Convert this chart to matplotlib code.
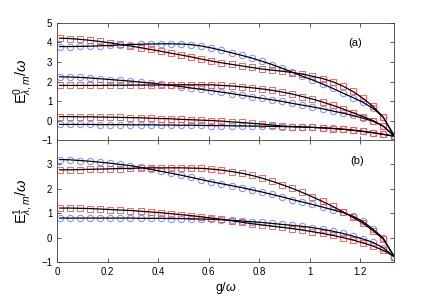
import numpy as np
import matplotlib
matplotlib.use("Agg")
import matplotlib.pyplot as plt

plt.rcParams['font.family'] = ['Liberation Sans', 'DejaVu Sans']
plt.rcParams['mathtext.fontset'] = 'custom'
plt.rcParams['mathtext.rm'] = 'Liberation Sans'
plt.rcParams['mathtext.it'] = 'Liberation Sans:italic'

# g/omega grid of the computed points
g = [0.01, 0.05, 0.09, 0.13, 0.17, 0.21, 0.25, 0.29, 0.33, 0.37, 0.41, 0.45,
     0.49, 0.53, 0.57, 0.61, 0.65, 0.69, 0.73, 0.77, 0.81, 0.85, 0.89, 0.93,
     0.97, 1.01, 1.05, 1.09, 1.13, 1.17, 1.21, 1.25, 1.29, 1.3333]

# panel (a): E^0
a_blue_top = [3.79, 3.79, 3.80, 3.81, 3.83, 3.85, 3.87, 3.89, 3.91, 3.92, 3.93, 3.93,
              3.92, 3.89, 3.82, 3.72, 3.60, 3.47, 3.34, 3.20, 3.04, 2.87, 2.68, 2.48,
              2.27, 2.08, 1.87, 1.65, 1.41, 1.18, 0.93, 0.63, 0.17, -0.78]
a_red_top = [4.22, 4.20, 4.16, 4.11, 4.05, 3.98, 3.90, 3.82, 3.73, 3.64, 3.55, 3.45,
             3.36, 3.26, 3.15, 3.05, 2.96, 2.88, 2.80, 2.72, 2.64, 2.58, 2.53, 2.46,
             2.38, 2.27, 2.15, 1.99, 1.77, 1.49, 1.14, 0.72, 0.18, -0.78]
a_blue_mid = [2.24, 2.23, 2.21, 2.18, 2.14, 2.10, 2.06, 2.02, 1.97, 1.92, 1.86, 1.80,
              1.74, 1.67, 1.60, 1.53, 1.46, 1.38, 1.30, 1.22, 1.14, 1.06, 0.98, 0.88,
              0.79, 0.70, 0.60, 0.49, 0.38, 0.26, 0.12, -0.04, -0.28, -0.78]
a_red_mid = [1.80, 1.80, 1.80, 1.80, 1.80, 1.81, 1.81, 1.81, 1.82, 1.82, 1.82, 1.83,
             1.83, 1.83, 1.83, 1.83, 1.80, 1.77, 1.73, 1.68, 1.62, 1.55, 1.46, 1.36,
             1.23, 1.10, 0.95, 0.78, 0.60, 0.40, 0.20, 0.00, -0.29, -0.78]
a_blue_low = [-0.20, -0.20, -0.20, -0.20, -0.21, -0.21, -0.21, -0.22, -0.22, -0.22, -0.23, -0.23,
              -0.24, -0.24, -0.25, -0.26, -0.26, -0.27, -0.28, -0.28, -0.29, -0.30, -0.31, -0.32,
              -0.33, -0.35, -0.37, -0.40, -0.44, -0.49, -0.55, -0.62, -0.70, -0.80]
a_red_low = [0.20, 0.20, 0.19, 0.19, 0.18, 0.17, 0.16, 0.15, 0.14, 0.12, 0.10, 0.09,
             0.06, 0.04, 0.02, 0.00, -0.03, -0.07, -0.10, -0.14, -0.18, -0.23, -0.28, -0.31,
             -0.33, -0.35, -0.38, -0.41, -0.45, -0.50, -0.56, -0.63, -0.71, -0.80]

# panel (b): E^1
b_blue_top = [3.20, 3.19, 3.16, 3.13, 3.09, 3.05, 3.00, 2.95, 2.88, 2.80, 2.72, 2.64,
              2.56, 2.47, 2.38, 2.29, 2.21, 2.13, 2.05, 1.96, 1.87, 1.77, 1.67, 1.56,
              1.46, 1.36, 1.25, 1.14, 1.03, 0.88, 0.66, 0.34, -0.02, -0.78]
b_red_top = [2.78, 2.78, 2.79, 2.80, 2.81, 2.82, 2.83, 2.84, 2.85, 2.86, 2.86, 2.86,
             2.86, 2.85, 2.84, 2.81, 2.77, 2.71, 2.64, 2.55, 2.44, 2.31, 2.17, 2.02,
             1.85, 1.67, 1.48, 1.28, 1.06, 0.83, 0.59, 0.28, -0.06, -0.78]
b_blue_low = [0.80, 0.80, 0.80, 0.80, 0.80, 0.80, 0.80, 0.80, 0.79, 0.79, 0.79, 0.78,
              0.78, 0.77, 0.76, 0.75, 0.73, 0.71, 0.68, 0.65, 0.62, 0.58, 0.54, 0.50,
              0.46, 0.41, 0.34, 0.26, 0.17, 0.06, -0.06, -0.20, -0.42, -0.78]
b_red_low = [1.21, 1.21, 1.20, 1.19, 1.17, 1.15, 1.13, 1.11, 1.08, 1.05, 1.02, 0.98,
             0.94, 0.90, 0.85, 0.80, 0.75, 0.69, 0.63, 0.57, 0.52, 0.47, 0.42, 0.37,
             0.31, 0.24, 0.17, 0.09, 0.00, -0.10, -0.22, -0.35, -0.52, -0.78]

BLUE = '#6b7cff'
RED = '#ff4a4a'
EDGE = '#404040'


def draw_panel(ax, blues, reds):
    for y in blues:
        ax.plot(g, y, 'o', mfc='none', mec=BLUE, ms=4.6, mew=0.75, alpha=0.85)
    for y in reds:
        ax.plot(g, y, 's', mfc='none', mec=RED, ms=4.2, mew=0.75, alpha=0.85)
    for y in blues + reds:
        ax.plot(g, y, '-', color='black', lw=0.9)
    ax.set_xlim(0, 4 / 3)
    ax.tick_params(direction='in', top=True, right=True, labelsize=7,
                   length=3, width=0.6, color=EDGE)
    for sp in ax.spines.values():
        sp.set_color(EDGE)
        sp.set_linewidth(0.6)


fig = plt.figure(figsize=(4.36, 2.98), dpi=100)
ax1 = fig.add_axes([0.131, 0.530, 0.773, 0.393])
ax2 = fig.add_axes([0.131, 0.121, 0.773, 0.409])

draw_panel(ax1, [a_blue_top, a_blue_mid, a_blue_low], [a_red_top, a_red_mid, a_red_low])
draw_panel(ax2, [b_blue_top, b_blue_low], [b_red_top, b_red_low])

ax1.set_ylim(-1, 5)
ax1.set_yticks([-1, 0, 1, 2, 3, 4, 5])
ax1.set_xticks([0, 0.2, 0.4, 0.6, 0.8, 1.0, 1.2])
ax1.set_xticklabels([])
ax2.set_ylim(-1, 4)
ax2.set_yticks([-1, 0, 1, 2, 3])
ax2.set_xticks([0, 0.2, 0.4, 0.6, 0.8, 1.0, 1.2])
ax2.set_xticklabels(['0', '0.2', '0.4', '0.6', '0.8', '1', '1.2'])

ax1.text(0.884, 0.83, '(a)', transform=ax1.transAxes, fontsize=8, ha='center', va='center')
ax2.text(0.89, 0.83, '(b)', transform=ax2.transAxes, fontsize=8, ha='center', va='center')

ax1.set_ylabel(r'$\mathrm{E}^{0}_{\lambda,m}/\omega$', fontsize=10.5, labelpad=4)
ax2.set_ylabel(r'$\mathrm{E}^{1}_{\lambda,m}/\omega$', fontsize=10.5, labelpad=4)
ax2.set_xlabel(r'g/$\omega$', fontsize=9, labelpad=2)

fig.savefig('out.png', dpi=100)
